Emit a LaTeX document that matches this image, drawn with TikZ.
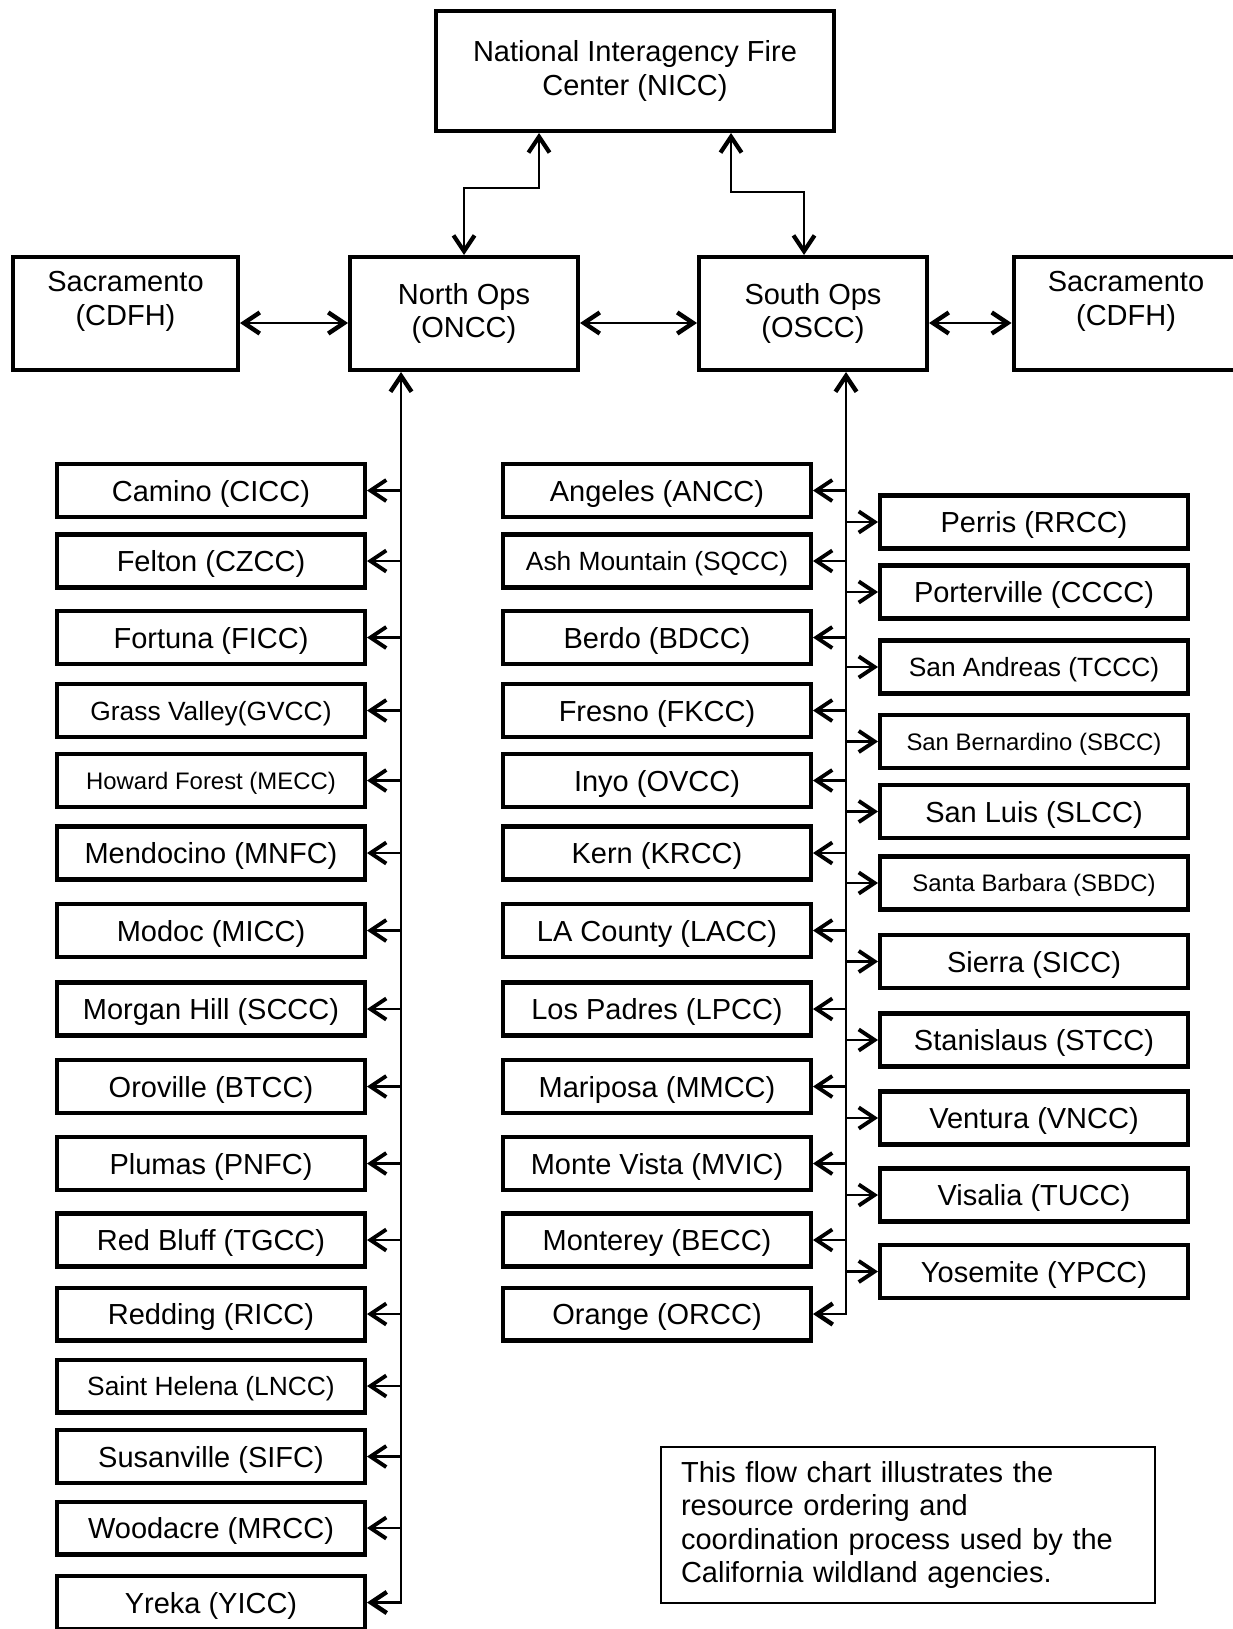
\documentclass[tikz,border=0pt]{standalone}
\usepackage{fontspec}
\setmainfont{Liberation Sans}
\usetikzlibrary{arrows.meta}
\newcommand{\bigtext}{\fontsize{16.5}{19.3}\selectfont}
\newcommand{\midtext}{\fontsize{15}{18}\selectfont}
\newcommand{\tinytext}{\fontsize{13.6}{16}\selectfont}
\newcommand{\notetext}{\fontsize{16.5}{18.8}\selectfont}

\begin{document}
\begin{tikzpicture}[x=0.02cm, y=-0.02cm, >={Straight Barb[length=9pt,width=12pt,line width=1pt 1]},
    box/.style={draw, line width=2.3pt, align=center, inner sep=0pt, font=\bigtext},
    colbox/.style={box, minimum width=6.16cm, minimum height=1.06cm, text depth=0pt},
    opsbox/.style={box, minimum width=4.56cm, minimum height=2.26cm},
    link/.style={->, line width=1.2pt}]
  \useasboundingbox (0,0) rectangle (1233,1629);

  % top and ops row
  \node[box, minimum width=7.96cm, minimum height=2.4cm] (nicc) at (635,71) {National Interagency Fire\\Center (NICC)};
  \node[opsbox, minimum width=4.5cm] (sacl) at (125.5,313.5) {Sacramento\\(CDFH)\\[-8pt]\strut};
  \node[opsbox] (oncc) at (464,313.5) {North Ops\\(ONCC)};
  \node[opsbox] (oscc) at (813,313.5) {South Ops\\(OSCC)};
  \node[opsbox, minimum width=4.5cm] (sacr) at (1126,313.5) {Sacramento\\(CDFH)\\[-8pt]\strut};

  % north ops units
  \node[colbox] (cicc) at (211,490.5) {Camino (CICC)};
  \node[colbox] (czcc) at (211,561) {Felton (CZCC)};
  \node[colbox] (ficc) at (211,637.5) {Fortuna (FICC)};
  \node[colbox, font=\midtext] (gvcc) at (211,710.5) {Grass Valley(GVCC)};
  \node[colbox, font=\tinytext] (mecc) at (211,780.5) {Howard Forest (MECC)};
  \node[colbox] (mnfc) at (211,853) {Mendocino (MNFC)};
  \node[colbox] (micc) at (211,930.5) {Modoc (MICC)};
  \node[colbox] (sccc) at (211,1009) {Morgan Hill (SCCC)};
  \node[colbox] (btcc) at (211,1086.5) {Oroville (BTCC)};
  \node[colbox] (pnfc) at (211,1163.5) {Plumas (PNFC)};
  \node[colbox] (tgcc) at (211,1240) {Red Bluff (TGCC)};
  \node[colbox] (ricc) at (211,1314) {Redding (RICC)};
  \node[colbox, font=\midtext] (lncc) at (211,1386) {Saint Helena (LNCC)};
  \node[colbox] (sifc) at (211,1456.5) {Susanville (SIFC)};
  \node[colbox] (mrcc) at (211,1528) {Woodacre (MRCC)};
  \node[colbox] (yicc) at (211,1602.5) {Yreka (YICC)};

  % south ops units, inner column
  \node[colbox] (ancc) at (657,490.5) {Angeles (ANCC)};
  \node[colbox, font=\midtext] (sqcc) at (657,561) {Ash Mountain (SQCC)};
  \node[colbox] (bdcc) at (657,637.5) {Berdo (BDCC)};
  \node[colbox] (fkcc) at (657,710.5) {Fresno (FKCC)};
  \node[colbox] (ovcc) at (657,780.5) {Inyo (OVCC)};
  \node[colbox] (krcc) at (657,853) {Kern (KRCC)};
  \node[colbox] (lacc) at (657,930.5) {LA County (LACC)};
  \node[colbox] (lpcc) at (657,1009) {Los Padres (LPCC)};
  \node[colbox] (mmcc) at (657,1086.5) {Mariposa (MMCC)};
  \node[colbox] (mvic) at (657,1163.5) {Monte Vista (MVIC)};
  \node[colbox] (becc) at (657,1240) {Monterey (BECC)};
  \node[colbox] (orcc) at (657,1314) {Orange (ORCC)};

  % south ops units, outer column
  \node[colbox] (rrcc) at (1034,522) {Perris (RRCC)};
  \node[colbox] (cccc) at (1034,592) {Porterville (CCCC)};
  \node[colbox, font=\midtext] (tccc) at (1034,667) {San Andreas (TCCC)};
  \node[colbox, font=\tinytext] (sbcc) at (1034,741.5) {San Bernardino (SBCC)};
  \node[colbox] (slcc) at (1034,811.5) {San Luis (SLCC)};
  \node[colbox, font=\tinytext] (sbdc) at (1034,883) {Santa Barbara (SBDC)};
  \node[colbox] (sicc) at (1034,961.5) {Sierra (SICC)};
  \node[colbox] (stcc) at (1034,1040) {Stanislaus (STCC)};
  \node[colbox] (vncc) at (1034,1118) {Ventura (VNCC)};
  \node[colbox] (tucc) at (1034,1195) {Visalia (TUCC)};
  \node[colbox] (ypcc) at (1034,1271.5) {Yosemite (YPCC)};

  \node[draw, line width=0.8pt, text width=9.08cm, inner xsep=0.4cm, minimum height=3.12cm, align=left, font=\notetext] (note) at (908,1525)
    {This flow chart illustrates the\\resource ordering and\\coordination process used by the\\California wildland agencies.};

  % connectors
  \coordinate (nbend) at (539,188);
  \coordinate (sbend) at (731,192);
  \coordinate (sdrop) at (804,255);
  \coordinate (hline) at (0,323);
  \coordinate (ntrunk) at (401,372);
  \coordinate (strunk) at (846,372);
  \draw[<->, line width=1.4pt] (nicc.south -| nbend) -- (nbend) -| (oncc.north);
  \draw[<->, line width=1.4pt] (nicc.south -| sbend) -- (sbend) -| (sdrop);
  \draw[<->, line width=1.5pt] (sacl.east |- hline) -- (oncc.west |- hline);
  \draw[<->, line width=1.5pt] (oncc.east |- hline) -- (oscc.west |- hline);
  \draw[<->, line width=1.5pt] (oscc.east |- hline) -- (sacr.west |- hline);
  \draw[<->, line width=1.5pt] (ntrunk) |- (yicc.east);
  \draw[<->, line width=1.5pt] (strunk) |- (orcc.east);
  \foreach \n in {cicc,czcc,ficc,gvcc,mecc,mnfc,micc,sccc,btcc,pnfc,tgcc,ricc,lncc,sifc,mrcc}
    \draw[link] (ntrunk |- \n.east) -- (\n.east);
  \foreach \n in {ancc,sqcc,bdcc,fkcc,ovcc,krcc,lacc,lpcc,mmcc,mvic,becc}
    \draw[link] (strunk |- \n.east) -- (\n.east);
  \foreach \n in {rrcc,cccc,tccc,sbcc,slcc,sbdc,sicc,stcc,vncc,tucc,ypcc}
    \draw[link] (strunk |- \n.west) -- (\n.west);
\end{tikzpicture}
\end{document}
